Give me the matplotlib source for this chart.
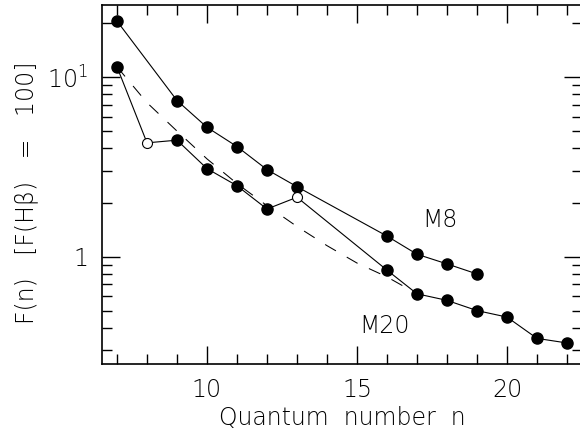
import numpy as np
import matplotlib
matplotlib.use("Agg")
import matplotlib.pyplot as plt
from matplotlib.ticker import FixedLocator, LogLocator, NullFormatter

# M8 series (filled circles)
m8_n = [7, 9, 10, 11, 12, 13, 16, 17, 18, 19]
m8_f = [20.5, 7.4, 5.25, 4.1, 3.05, 2.45, 1.30, 1.03, 0.91, 0.80]

# M20 series (open circles at n=8 and n=13)
m20_n = [7, 8, 9, 10, 11, 12, 13, 16, 17, 18, 19, 20, 21, 22]
m20_f = [11.4, 4.3, 4.45, 3.09, 2.48, 1.84, 2.14, 0.84, 0.62, 0.57, 0.50, 0.46, 0.35, 0.33]
m20_open = [8, 13]

# dashed reference curve
dash_n = [7, 8, 9, 10, 11, 12, 13, 14, 15, 16, 17]
dash_f = [11.4, 7.2, 5.0, 3.5, 2.55, 1.92, 1.47, 1.15, 0.92, 0.77, 0.62]

plt.rcParams['font.family'] = ['DejaVu Sans']
plt.rcParams['font.weight'] = 'light'
plt.rcParams['axes.labelweight'] = 'light'
plt.rcParams['mathtext.fontset'] = 'custom'
plt.rcParams['mathtext.rm'] = 'DejaVu Sans:light'

fig = plt.figure(figsize=(5.8, 4.36), dpi=100)
ax = fig.add_axes([102 / 580, 72 / 436, 480 / 580, 359 / 436])

ax.plot(dash_n, dash_f, color='black', lw=0.75, ls=(0, (12, 12)), zorder=1)
ax.plot(m8_n, m8_f, color='black', lw=0.8, zorder=2)
ax.plot(m20_n, m20_f, color='black', lw=0.8, zorder=2)

ax.plot(m8_n, m8_f, 'o', color='black', ms=8, ls='none', zorder=3)
filled = [(n, f) for n, f in zip(m20_n, m20_f) if n not in m20_open]
hollow = [(n, f) for n, f in zip(m20_n, m20_f) if n in m20_open]
ax.plot([p[0] for p in filled], [p[1] for p in filled], 'o', color='black',
        ms=8, ls='none', zorder=3)
ax.plot([p[0] for p in hollow], [p[1] for p in hollow], 'o', mfc='white',
        mec='black', mew=0.8, ms=7.2, ls='none', zorder=3)

ax.text(17.77, 1.59, 'M8', fontsize=17, ha='center', va='center')
ax.text(15.93, 0.412, 'M20', fontsize=17, ha='center', va='center')

ax.set_yscale('log')
ax.set_xlim(6.5, 22.5)
ax.set_ylim(0.252, 25.2)

ax.xaxis.set_major_locator(FixedLocator([10, 15, 20]))
ax.xaxis.set_minor_locator(FixedLocator(range(7, 23)))
ax.yaxis.set_major_locator(FixedLocator([1, 10]))
ax.yaxis.set_minor_locator(LogLocator(base=10, subs=np.arange(2, 10)))
ax.yaxis.set_minor_formatter(NullFormatter())
ax.set_yticklabels(['1', r'$10^1$'])

ax.tick_params(which='both', direction='in', top=True, right=True,
               labelsize=17, width=1.0)
ax.tick_params(which='major', length=13, pad=10)
ax.tick_params(which='minor', length=7)
for s in ax.spines.values():
    s.set_linewidth(1.2)

ax.set_xlabel('Quantum  number  n', fontsize=17, fontweight='light', labelpad=3)
fig.text(26 / 580, 1 - 193 / 436, 'F(n)   [F(H\u03b2)   =   100]', fontsize=17,
         rotation=90, ha='center', va='center')

fig.savefig('out.png', dpi=100)
